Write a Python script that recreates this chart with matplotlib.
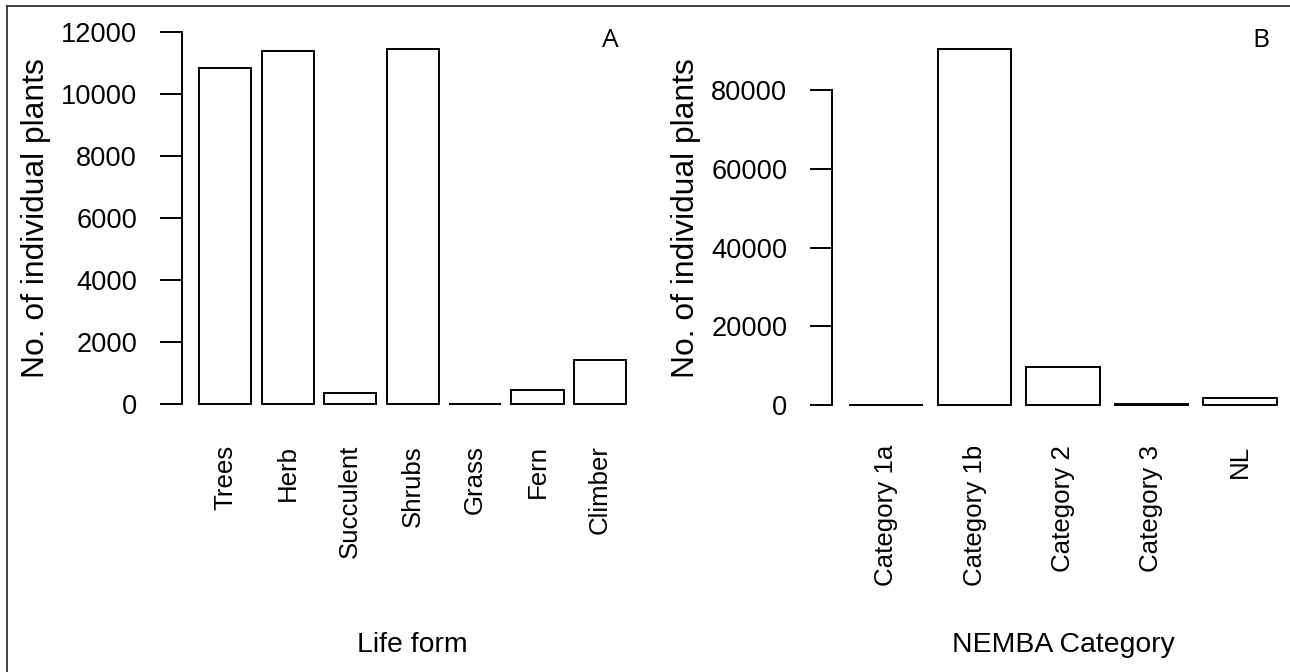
import matplotlib
matplotlib.use("Agg")
import matplotlib.pyplot as plt
from matplotlib.lines import Line2D
import numpy as np

# ---- data ----
life_forms = ["Trees", "Herb", "Succulent", "Shrubs", "Grass", "Fern", "Climber"]
life_counts = [10840, 11380, 350, 11450, 15, 460, 1425]
life_yticks = [0, 2000, 4000, 6000, 8000, 10000, 12000]

nemba_cats = ["Category 1a", "Category 1b", "Category 2", "Category 3", "NL"]
nemba_counts = [10, 90500, 9600, 350, 1850]
nemba_yticks = [0, 20000, 40000, 60000, 80000]

W, H = 1290, 672
fig = plt.figure(figsize=(W / 100, H / 100), dpi=100)
fig.patch.set_facecolor("white")

FONT = "Liberation Sans"
LW = 1.4


def panel(rect, cats, counts, yticks, ylim, xlabel, letter):
    ax = fig.add_axes(rect)
    n = len(cats)
    centers = 0.7 + 1.2 * np.arange(n)
    ax.bar(centers, counts, width=1.0, facecolor="white", edgecolor="black",
           linewidth=LW)
    ax.set_xlim(0.2 - 0.04 * 1.2 * n + 0.04 * 0.2, 1.2 * n + 0.04 * (1.2 * n - 0.2))
    ax.set_ylim(*ylim)
    for s in ["top", "right", "bottom"]:
        ax.spines[s].set_visible(False)
    ax.spines["left"].set_bounds(yticks[0], yticks[-1])
    ax.spines["left"].set_linewidth(LW)
    ax.set_yticks(yticks)
    ax.set_yticklabels([str(v) for v in yticks], fontsize=19.6, family=FONT)
    ax.tick_params(axis="y", length=15.8, width=LW, pad=16.5, direction="out")
    ax.set_xticks(centers)
    ax.set_xticklabels(cats, rotation=90, fontsize=18.6, family=FONT)
    ax.tick_params(axis="x", length=0, pad=18.5)
    ax.set_ylabel("No. of individual plants", fontsize=22.9, family=FONT)
    ax.yaxis.set_label_coords(-0.284, 0.5)
    ax.set_xlabel(xlabel, fontsize=20.4, family=FONT)
    ax.xaxis.set_label_coords(0.5, -0.529)
    ax.xaxis.label.set_va("top")
    ax.text(0.928, 0.942, letter, transform=ax.transAxes, ha="center",
            va="center", fontsize=19, family="Open Sans")
    ax.patch.set_alpha(0)
    return ax


bottom = 1 - 419.2 / H
height = 402.4 / H
panel([182 / W, bottom, 461.1 / W, height], life_forms, life_counts,
      life_yticks, (-480, 12480), "Life form", "A")
panel([832.2 / W, bottom, 461.6 / W, height], nemba_cats, nemba_counts,
      nemba_yticks, (-3610, 98683), "NEMBA Category", "B")

# outer frame (left and top edges visible)
fig.add_artist(Line2D([6.5 / W, 6.5 / W], [0, 1 - 6 / H], transform=fig.transFigure,
                      color="#222222", linewidth=1.2))
fig.add_artist(Line2D([6.5 / W, 1.0], [1 - 6 / H, 1 - 6 / H], transform=fig.transFigure,
                      color="#222222", linewidth=1.2))

fig.savefig("out.png", dpi=100)
